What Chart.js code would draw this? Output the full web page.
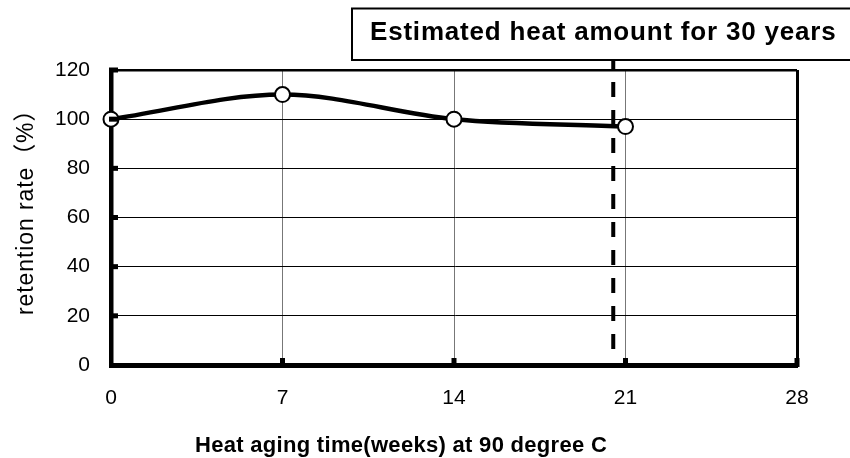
<!DOCTYPE html>
<html><head><meta charset="utf-8">
<script src="https://cdn.jsdelivr.net/npm/chart.js@4"></script>
<style>html,body{margin:0;padding:0;background:#fff}#wrap{width:850px;height:458px}</style>
</head><body><div id="wrap"><canvas id="c" width="850" height="458"></canvas></div>
<script>
const weeks = [0, 7, 14, 21];
const retention = [100, 110, 100, 97];
const xTicks = [0, 7, 14, 21, 28];
const yTicks = [0, 20, 40, 60, 80, 100, 120];
const estimateWeek = 20.5;
const estimateLineEnd = 6.5;
const estimateLabel = 'Estimated heat amount for 30 years';
const xTitle = 'Heat aging time(weeks) at 90 degree C';
const yTitle = 'retention rate（%）';

const FONT = '"Liberation Sans", Arial, "Noto Sans CJK JP", sans-serif';

const extras = {
  id: 'extras',
  afterDatasetsDraw(chart) {
    const ctx = chart.ctx, xs = chart.scales.x, ys = chart.scales.y, a = chart.chartArea;
    ctx.save();
    ctx.fillStyle = '#000';
    // inner tick marks
    yTicks.forEach(v => { if (v === 0) return; const y = ys.getPixelForValue(v); ctx.fillRect(a.left - 2, y - 2.5, 9, 5); });
    xTicks.forEach(v => { if (v === 0) return; const x = xs.getPixelForValue(v); ctx.fillRect(x - 2.5, a.bottom - 7, 5, 9); });
    // dashed estimate line
    const ex = xs.getPixelForValue(estimateWeek);
    ctx.strokeStyle = '#000';
    ctx.lineWidth = 4;
    ctx.setLineDash([15, 13]);
    ctx.beginPath();
    ctx.moveTo(ex, a.top - 16);
    ctx.lineTo(ex, ys.getPixelForValue(estimateLineEnd));
    ctx.stroke();
    ctx.setLineDash([]);
    // label box
    ctx.fillStyle = '#fff';
    ctx.fillRect(352, 8.5, 510, 51.5);
    ctx.lineWidth = 2;
    ctx.strokeRect(352, 8.5, 510, 51.5);
    ctx.fillStyle = '#000';
    ctx.font = 'bold 26px ' + FONT;
    ctx.letterSpacing = '0.8px';
    ctx.textAlign = 'left';
    ctx.textBaseline = 'alphabetic';
    ctx.fillText(estimateLabel, 370, 39.5);
    // x axis title
    ctx.font = 'bold 22px ' + FONT;
    ctx.letterSpacing = '0.3px';
    ctx.fillText(xTitle, 195, 452);
    // y axis title
    ctx.font = '23px ' + FONT;
    ctx.letterSpacing = '0.9px';
    ctx.translate(33, 315);
    ctx.rotate(-Math.PI / 2);
    ctx.fillText(yTitle, 0, 0);
    ctx.restore();
  }
};

new Chart(document.getElementById('c'), {
  type: 'line',
  data: {
    datasets: [{
      data: weeks.map((w, i) => ({x: w, y: retention[i]})),
      borderColor: '#000',
      borderWidth: 4.5,
      cubicInterpolationMode: 'monotone',
      pointRadius: 7.5,
      pointBackgroundColor: '#fff',
      pointBorderColor: '#000',
      pointBorderWidth: 2,
      clip: false
    }]
  },
  options: {
    responsive: false,
    animation: false,
    devicePixelRatio: 1,
    layout: {padding: {top: 70, right: 53, left: 0, bottom: 0}},
    plugins: {legend: {display: false}, tooltip: {enabled: false}},
    scales: {
      x: {
        type: 'linear', min: 0, max: 28,
        afterBuildTicks: s => { s.ticks = xTicks.map(v => ({value: v})); },
        afterFit: s => { s.height = 93; },
        ticks: {font: {family: FONT, size: 21}, color: '#000', padding: 21},
        grid: {drawTicks: false, color: c => c.tick && c.tick.value === 28 ? '#000' : '#777', lineWidth: c => c.tick && c.tick.value === 28 ? 3 : 1},
        border: {width: 5, color: '#000'},
        title: {display: false, text: xTitle}
      },
      y: {
        min: 0, max: 120,
        afterBuildTicks: s => { s.ticks = yTicks.map(v => ({value: v})); },
        afterFit: s => { s.width = 111; },
        ticks: {font: {family: FONT, size: 21}, color: '#000', padding: 21},
        grid: {drawTicks: false, color: '#000', lineWidth: c => c.tick && c.tick.value === 120 ? 2.5 : 1},
        border: {width: 4.5, color: '#000'},
        title: {display: false, text: yTitle}
      }
    }
  },
  plugins: [extras]
});
</script></body></html>
